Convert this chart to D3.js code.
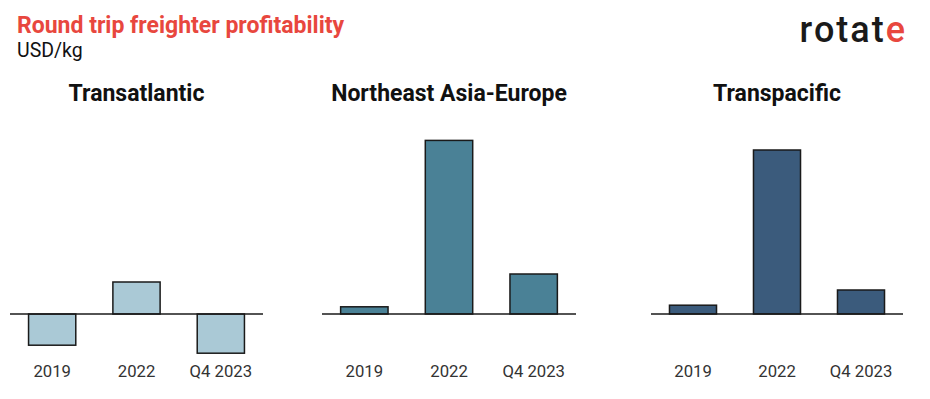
<!DOCTYPE html>
<html>
<head>
<meta charset="utf-8">
<script src="https://cdn.jsdelivr.net/npm/d3@7"></script>
<style>
  body { margin: 0; background: #fff; font-family: Roboto, sans-serif; }
</style>
</head>
<body>
<div id="chart"></div>
<script>
// data (USD/kg)
const categories = ['2019', '2022', 'Q4 2023'];
const regions = ['Transatlantic', 'Northeast Asia-Europe', 'Transpacific'];
const transatlantic = [-0.39, 0.40, -0.49];
const asiaEurope = [0.09, 2.17, 0.50];
const transpacific = [0.11, 2.05, 0.30];
const colors = ['#aac9d6', '#4a8196', '#3b5b7c'];

const width = 930, height = 399;
const svg = d3.select('#chart').append('svg')
  .attr('width', width)
  .attr('height', height);

// header
svg.append('text')
  .attr('x', 17).attr('y', 33)
  .attr('font-size', 23).attr('font-weight', 700)
  .attr('fill', '#e8473e')
  .text('Round trip freighter profitability');

svg.append('text')
  .attr('x', 17).attr('y', 57)
  .attr('font-size', 19.5)
  .attr('fill', '#111')
  .text('USD/kg');

// logo
const logo = svg.append('text')
  .attr('x', 905).attr('y', 42)
  .attr('text-anchor', 'end')
  .attr('font-size', 36).attr('font-weight', 500)
  .attr('letter-spacing', 2)
  .attr('fill', '#1a1a1a');
logo.append('tspan').text('rotat');
logo.append('tspan').attr('fill', '#e8473e').attr('letter-spacing', 0).text('e');

// shared y scale
const y = d3.scaleLinear()
  .domain([0, 2.2])
  .range([314, 138]);

const panels = [
  { name: regions[0], values: transatlantic, range: [10, 263] },
  { name: regions[1], values: asiaEurope, range: [322, 576] },
  { name: regions[2], values: transpacific, range: [651, 903] }
];

panels.forEach((p, i) => {
  const x = d3.scaleBand()
    .domain(categories)
    .range(p.range)
    .paddingInner(0.44)
    .paddingOuter(0.22);

  const g = svg.append('g');

  g.append('text')
    .attr('x', (p.range[0] + p.range[1]) / 2)
    .attr('y', 101)
    .attr('text-anchor', 'middle')
    .attr('font-size', 23).attr('font-weight', 700)
    .attr('fill', '#111')
    .text(p.name);

  g.selectAll('rect')
    .data(p.values)
    .enter()
    .append('rect')
    .attr('x', (d, j) => x(categories[j]))
    .attr('y', d => y(Math.max(0, d)))
    .attr('width', x.bandwidth())
    .attr('height', d => Math.abs(y(d) - y(0)))
    .attr('fill', colors[i])
    .attr('stroke', '#1a1a1a')
    .attr('stroke-width', 1.5);

  // zero line
  g.append('line')
    .attr('x1', p.range[0]).attr('x2', p.range[1])
    .attr('y1', y(0)).attr('y2', y(0))
    .attr('stroke', '#1a1a1a')
    .attr('stroke-width', 1.5);

  // category labels
  const axis = g.append('g')
    .attr('transform', 'translate(0,377)')
    .call(d3.axisBottom(x).tickSize(0).tickPadding(0));
  axis.select('.domain').remove();
  axis.selectAll('text')
    .attr('font-size', 16.7)
    .attr('font-family', 'Roboto, sans-serif')
    .attr('fill', '#333')
    .attr('dy', 0);
});
</script>
</body>
</html>
